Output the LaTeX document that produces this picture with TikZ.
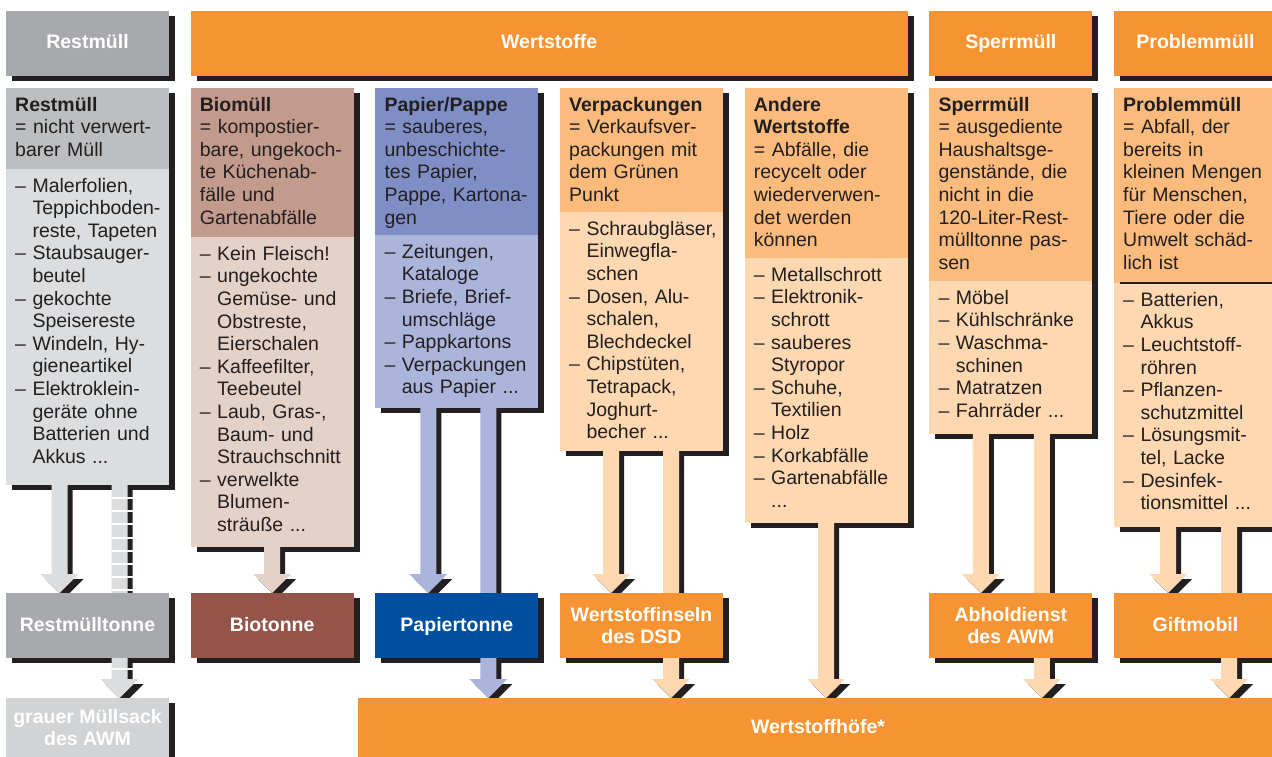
\documentclass[tikz,border=0pt]{standalone}
\usepackage{fontspec}
\setmainfont{Liberation Sans}
\usetikzlibrary{calc}
\definecolor{shadowc}{HTML}{231F20}
\definecolor{txtc}{HTML}{231F20}
\definecolor{grayH}{HTML}{A7A9AC}
\definecolor{restD}{HTML}{BCBEC0}
\definecolor{restL}{HTML}{DCDDDE}
\definecolor{sackc}{HTML}{D1D3D4}
\definecolor{orangeH}{HTML}{F69433}
\definecolor{bioD}{HTML}{C39B8C}
\definecolor{bioL}{HTML}{E4D1C7}
\definecolor{bioT}{HTML}{94544A}
\definecolor{papD}{HTML}{7F8FC6}
\definecolor{papL}{HTML}{ABB4DA}
\definecolor{papT}{HTML}{004E9E}
\definecolor{oraD}{HTML}{FBBB7D}
\definecolor{oraL}{HTML}{FDD8B0}
\pgfdeclarelayer{shadowlayer}
\pgfdeclarelayer{arrowlayer}
\pgfsetlayers{shadowlayer,arrowlayer,main}
\setlength\parindent{0pt}
\newcommand\wbu{–\ }
\newcommand\wci{\hphantom{–\ }}
\newcommand\tstrut{\rule{0pt}{18pt}}
\newcommand\bodyfont{\fontsize{19.5}{22.6}\selectfont}
\newcommand\arrowpath[4]{let \p1=($(#1.south west)+(#3,0)$), \p2=(#2.north) in
  ({\x1-8pt+#4},{\y1-#4}) -- ({\x1+8pt+#4},{\y1-#4}) -- ({\x1+8pt+#4},{\y2+19pt-#4})
  -- ({\x1+19pt+#4},{\y2+19pt-#4}) -- ({\x1+#4},{\y2-#4}) -- ({\x1-19pt+#4},{\y2+19pt-#4})
  -- ({\x1-8pt+#4},{\y2+19pt-#4}) -- cycle}
\newcommand\blockarrow[4]{%
  \begin{pgfonlayer}{shadowlayer}
    \fill[shadowc] \arrowpath{#1}{#2}{#3}{5pt};
  \end{pgfonlayer}
  \begin{pgfonlayer}{arrowlayer}
    \fill[#4] \arrowpath{#1}{#2}{#3}{0pt};
  \end{pgfonlayer}}
\tikzset{
  boxn/.style={anchor=north west, inner sep=0pt, outer sep=0pt, minimum width=163},
  hbase/.style={boxn, minimum height=65, font=\bodyfont\bfseries, text=white, align=center},
  hbox/.style={hbase, text height=14, text depth=3},
  hbox2/.style={hbase},
  ctext/.style={anchor=north west, inner sep=0pt, text width=200, align=left, font=\bodyfont, text=txtc}
}
\begin{document}
\begin{tikzpicture}[x=1pt,y=-1pt]
\useasboundingbox (0,0) rectangle (1272,757);
% header row
\node[hbox, fill=grayH] (h0) at (6,11) {Restmüll};
\node[hbox, fill=orangeH, minimum width=717] (h1) at (190.67,11) {Wertstoffe};
\node[hbox, fill=orangeH] (h5) at (929.33,11) {Sperrmüll};
\node[hbox, fill=orangeH] (h6) at (1114,11) {Problemmüll};
% content boxes
\node[boxn, fill=restD, minimum height=81] (d0) at (6,88) {};
\node[boxn, fill=restL, minimum height=316] (l0) at (6,169) {};
\node[boxn, fill=bioD, minimum height=149] (d1) at (190.67,88) {};
\node[boxn, fill=bioL, minimum height=310] (l1) at (190.67,237) {};
\node[boxn, fill=papD, minimum height=147] (d2) at (375.33,88) {};
\node[boxn, fill=papL, minimum height=173] (l2) at (375.33,235) {};
\node[boxn, fill=oraD, minimum height=124] (d3) at (560,88) {};
\node[boxn, fill=oraL, minimum height=239] (l3) at (560,212) {};
\node[boxn, fill=oraD, minimum height=170] (d4) at (744.67,88) {};
\node[boxn, fill=oraL, minimum height=265] (l4) at (744.67,258) {};
\node[boxn, fill=oraD, minimum height=193] (d5) at (929.33,88) {};
\node[boxn, fill=oraL, minimum height=153] (l5) at (929.33,281) {};
\node[boxn, fill=oraD, minimum height=195] (d6) at (1114,88) {};
\node[boxn, fill=oraL, minimum height=244] (l6) at (1114,283) {};
\draw[shadowc, line width=1.2] ($(d6.south west)+(6,0)$) -- (d6.south east);
% bottom boxes
\node[hbox, fill=grayH] (t0) at (6,593) {Restmülltonne};
\node[hbox, fill=bioT] (t1) at (190.67,593) {Biotonne};
\node[hbox, fill=papT] (t2) at (375.33,593) {Papiertonne};
\node[hbox2, fill=orangeH] (t3) at (560,593) {Wertstoffinseln\\des DSD};
\node[hbox2, fill=orangeH] (t5) at (929.33,593) {Abholdienst\\des AWM};
\node[hbox, fill=orangeH] (t6) at (1114,593) {Giftmobil};
\node[hbox2, fill=sackc, minimum height=59] (sack) at (6,698) {grauer Müllsack\\des AWM};
\node[hbox, fill=orangeH, minimum width=920, minimum height=59] (hof) at (358,698) {Wertstoffhöfe*};
% shadows of boxes
\begin{pgfonlayer}{shadowlayer}
\foreach \n in {h0,h1,h5,h6,d0,l0,d1,l1,d2,l2,d3,l3,d4,l4,d5,l5,d6,l6,t0,t1,t2,t3,t5,t6,sack,hof}
  \fill[shadowc] ($(\n.north west)+(6,5)$) rectangle ($(\n.south east)+(6,5)$);
\end{pgfonlayer}
% arrows
\blockarrow{l0}{t0}{53.5}{restL}
\blockarrow{l0}{sack}{113.5}{restL}
\begin{pgfonlayer}{arrowlayer}
\foreach \k in {0,...,7}
  \fill[white] ($(l0.south west)+(105.5,12+13.2*\k)$) rectangle +(21,2);
\fill[white] ($(t0.south west)+(105.5,10)$) rectangle +(21,2);
\end{pgfonlayer}
\blockarrow{l1}{t1}{81.5}{bioL}
\blockarrow{l2}{t2}{53}{papL}
\blockarrow{l2}{hof}{113}{papL}
\blockarrow{l3}{t3}{51}{oraL}
\blockarrow{l3}{hof}{111}{oraL}
\blockarrow{l4}{hof}{81.5}{oraL}
\blockarrow{l5}{t5}{51.5}{oraL}
\blockarrow{l5}{hof}{112.5}{oraL}
\blockarrow{l6}{t6}{54}{oraL}
\blockarrow{l6}{hof}{115}{oraL}
% texts
\node[ctext] (c0a) at ($(d0.north west)+(9,5)$) {\tstrut\textbf{Restmüll}\\= nicht verwert-\\barer Müll};
\node[ctext] (c0b) at ($(l0.north west)+(9,5)$) {\tstrut\wbu Malerfolien,\\\wci Teppichboden-\\\wci reste, Tapeten\\\wbu Staubsauger-\\\wci beutel\\\wbu gekochte\\\wci Speisereste\\\wbu Windeln, Hy-\\\wci gieneartikel\\\wbu Elektroklein-\\\wci geräte ohne\\\wci Batterien und\\\wci Akkus ...};
\node[ctext] (c1a) at ($(d1.north west)+(9,5)$) {\tstrut\textbf{Biomüll}\\= kompostier-\\bare, ungekoch-\\te Küchenab-\\fälle und\\Gartenabfälle};
\node[ctext] (c1b) at ($(l1.north west)+(9,5)$) {\tstrut\wbu Kein Fleisch!\\\wbu ungekochte\\\wci Gemüse- und\\\wci Obstreste,\\\wci Eierschalen\\\wbu Kaffeefilter,\\\wci Teebeutel\\\wbu Laub, Gras-,\\\wci Baum- und\\\wci Strauchschnitt\\\wbu verwelkte\\\wci Blumen-\\\wci sträuße ...};
\node[ctext] (c2a) at ($(d2.north west)+(9,5)$) {\tstrut\textbf{Papier/Pappe}\\= sauberes,\\unbeschichte-\\tes Papier,\\Pappe, Kartona-\\gen};
\node[ctext] (c2b) at ($(l2.north west)+(9,5)$) {\tstrut\wbu Zeitungen,\\\wci Kataloge\\\wbu Briefe, Brief-\\\wci umschläge\\\wbu Pappkartons\\\wbu Verpackungen\\\wci aus Papier ...};
\node[ctext] (c3a) at ($(d3.north west)+(9,5)$) {\tstrut\textbf{Verpackungen}\\= Verkaufsver-\\packungen mit\\dem Grünen\\Punkt};
\node[ctext] (c3b) at ($(l3.north west)+(9,5)$) {\tstrut\wbu Schraubgläser,\\\wci Einwegfla-\\\wci schen\\\wbu Dosen, Alu-\\\wci schalen,\\\wci Blechdeckel\\\wbu Chipstüten,\\\wci Tetrapack,\\\wci Joghurt-\\\wci becher ...};
\node[ctext] (c4a) at ($(d4.north west)+(9,5)$) {\tstrut\textbf{Andere}\\\textbf{Wertstoffe}\\= Abfälle, die\\recycelt oder\\wiederverwen-\\det werden\\können};
\node[ctext] (c4b) at ($(l4.north west)+(9,5)$) {\tstrut\wbu Metallschrott\\\wbu Elektronik-\\\wci schrott\\\wbu sauberes\\\wci Styropor\\\wbu Schuhe,\\\wci Textilien\\\wbu Holz\\\wbu Korkabfälle\\\wbu Gartenabfälle\\\wci ...};
\node[ctext] (c5a) at ($(d5.north west)+(9,5)$) {\tstrut\textbf{Sperrmüll}\\= ausgediente\\Haushaltsge-\\genstände, die\\nicht in die\\120-Liter-Rest-\\mülltonne pas-\\sen};
\node[ctext] (c5b) at ($(l5.north west)+(9,5)$) {\tstrut\wbu Möbel\\\wbu Kühlschränke\\\wbu Waschma-\\\wci schinen\\\wbu Matratzen\\\wbu Fahrräder ...};
\node[ctext] (c6a) at ($(d6.north west)+(9,5)$) {\tstrut\textbf{Problemmüll}\\= Abfall, der\\bereits in\\kleinen Mengen\\für Menschen,\\Tiere oder die\\Umwelt schäd-\\lich ist};
\node[ctext] (c6b) at ($(l6.north west)+(9,5)$) {\tstrut\wbu Batterien,\\\wci Akkus\\\wbu Leuchtstoff-\\\wci röhren\\\wbu Pflanzen-\\\wci schutzmittel\\\wbu Lösungsmit-\\\wci tel, Lacke\\\wbu Desinfek-\\\wci tionsmittel ...};
\end{tikzpicture}
\end{document}
